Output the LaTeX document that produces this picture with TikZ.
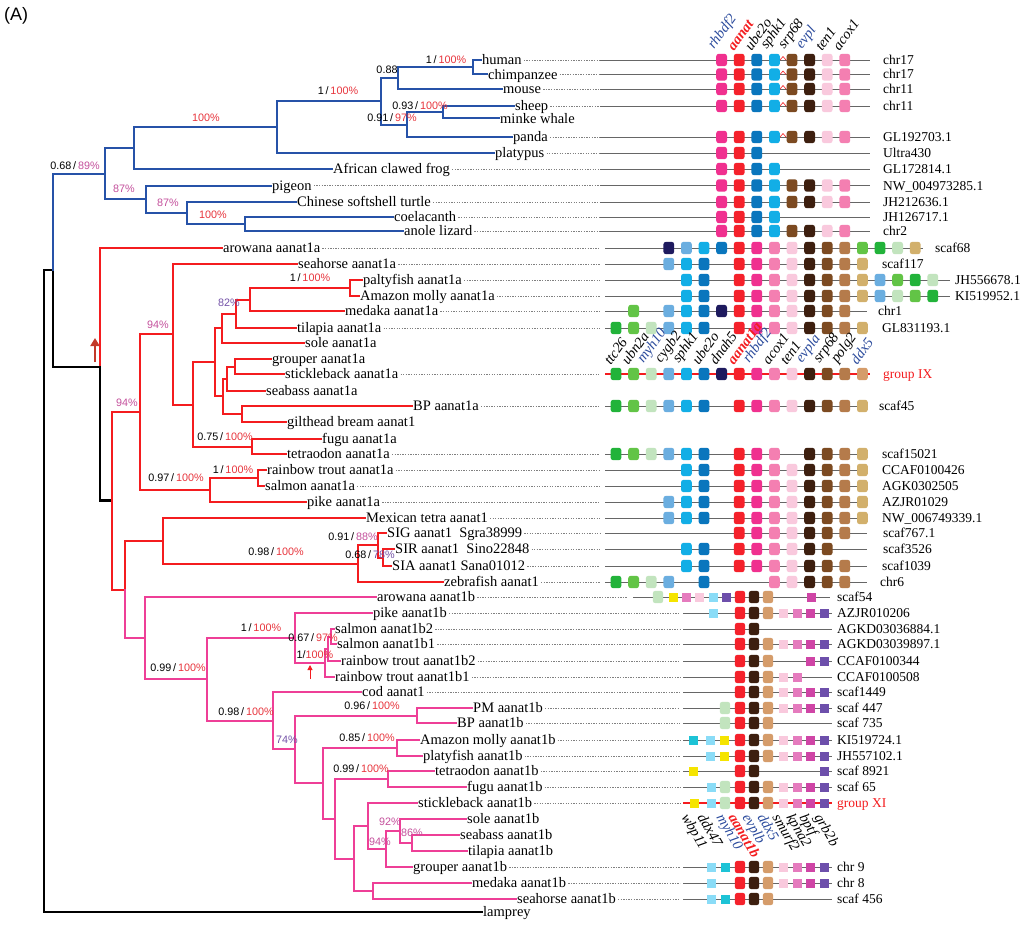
\documentclass[tikz,border=0pt]{standalone}
\usepackage{fontspec}
\setmainfont{Liberation Serif}
\setsansfont{Liberation Sans}
\usetikzlibrary{arrows.meta}
\definecolor{tb}{HTML}{2652A8}
\definecolor{tr}{HTML}{F41C1F}
\definecolor{tp}{HTML}{EE3F97}
\definecolor{pr}{HTML}{E8343C}
\definecolor{pp}{HTML}{C4509C}
\definecolor{pv}{HTML}{7452A8}
\definecolor{gb}{HTML}{2A4A9C}
\definecolor{arr}{HTML}{C23A2A}
\definecolor{cRhb}{HTML}{F0308F}
\definecolor{cRed}{HTML}{F5212B}
\definecolor{cUbe}{HTML}{0A76BD}
\definecolor{cSph}{HTML}{12AEE6}
\definecolor{cSrp}{HTML}{7C4A21}
\definecolor{cEvp}{HTML}{3D1F0F}
\definecolor{cTen}{HTML}{F9C9DD}
\definecolor{cAco}{HTML}{F47FB1}
\definecolor{cTtc}{HTML}{22B33A}
\definecolor{cUbn}{HTML}{62C446}
\definecolor{cMyh}{HTML}{C2E4BE}
\definecolor{cCyg}{HTML}{6BAEE0}
\definecolor{cDna}{HTML}{1E1A5E}
\definecolor{cPol}{HTML}{B57B4B}
\definecolor{cDdx}{HTML}{D2B06C}
\definecolor{cTan}{HTML}{D59C6A}
\definecolor{cYel}{HTML}{F5E400}
\definecolor{cLcy}{HTML}{8ADCF7}
\definecolor{cTeal}{HTML}{1DC3D6}
\definecolor{cKpn}{HTML}{E57BBE}
\definecolor{cBpt}{HTML}{CF45A6}
\definecolor{cGrb}{HTML}{6D4FAB}
\tikzset{
 br/.style={line width=2pt, line cap=rect},
 bb/.style={br, tb}, rb/.style={br, tr}, pb/.style={br, tp},
 kb/.style={br, black, line width=2.6pt},
 lab/.style={anchor=base west, inner sep=0pt, font=\fontsize{14.5}{14.5}\selectfont, yshift=-4.6pt},
 chl/.style={anchor=base west, inner sep=0pt, font=\fontsize{13.5}{13.5}\selectfont, yshift=-4.5pt},
 supp/.style={inner sep=0pt, font=\sffamily\fontsize{10.8}{10.8}\selectfont},
 ldr/.style={gray, line width=0.5pt, dash pattern=on 1.3pt off 1.3pt, shorten <=2pt},
 sl/.style={gray!80!black, line width=0.8pt},
 glab/.style={inner sep=0pt, font=\itshape\fontsize{14.5}{14.5}\selectfont},
 glabb/.style={inner sep=0pt, font=\bfseries\itshape\fontsize{14.5}{14.5}\selectfont, text=tr},
 up/.style={rotate=54, anchor=south west},
 dn/.style={rotate=-60, anchor=north west},
}
\newcommand\Leaf[6]{\node[lab] (#1) at (#4,#2) {#5};\draw[#6, shorten >=1.5pt] (#3,#2) -- (#1.west |- 0,#2);}
\newcommand\Ldr[3]{\draw[ldr] (#1.east |- 0,#2) -- (#3,#2);}
\newcommand\SynC[4]{\draw[sl] (#2,#1) -- (#3,#1);
 \foreach \ii/\cc in {#4} {\fill[\cc, rounded corners=2.6pt] ({616+17.6*\ii-5.4},{#1-6.2}) rectangle ({616+17.6*\ii+5.4},{#1+6.2});}}
\newcommand\RB[2]{\foreach \xx/\cc in {#2} {\fill[\cc, rounded corners=2.6pt] ({\xx-5.2},{#1-6.2}) rectangle ({\xx+5.2},{#1+6.2});}}
\newcommand\SQ[2]{\foreach \xx/\cc in {#2} {\fill[\cc] ({\xx-4.5},{#1-4.5}) rectangle ({\xx+4.5},{#1+4.5});}}
\newcommand\Sqg[1]{\draw[tr, line width=0.6pt] (780,#1) -- (783,#1-3.5) -- (786,#1);}
\begin{document}
\begin{tikzpicture}[x=1pt,y=-1pt]
\useasboundingbox (0,0) rectangle (1024,928);
\fill[white] (0,0) rectangle (1024,928);
\node[anchor=north west, inner sep=0pt, font=\sffamily\fontsize{18}{18}\selectfont] (A) at (4,7) {(A)};

% ---------- backbone ----------
\draw[kb] (44,270) -- (44,912);
\draw[kb] (44,270) -- (53,270);
\draw[kb] (53,270) -- (53,367) -- (100,367);
\draw[rb] (100,248) -- (100,367);
\draw[kb] (100,367) -- (100,500.7) -- (112,500.7);
\draw[-{Triangle[length=8pt,width=9pt]}, line width=2.6pt, arr] (95,362) -- (95,338);

% ---------- blue clade ----------
\draw[bb] (53,173.7) -- (53,270);
\draw[bb] (53,173.7) -- (105,173.7) (105,148.1) -- (105,199.25);
\draw[bb] (105,148.1) -- (134,148.1) (134,127.2) -- (134,169);
\draw[bb] (134,127.2) -- (277,127.2) (277,101.4) -- (277,153);
\draw[bb] (277,101.4) -- (381,101.4) (381,78.1) -- (381,124.6);
\draw[bb] (381,78.1) -- (398,78.1) (398,67.25) -- (398,89);
\draw[bb] (398,67.25) -- (473,67.25) (473,60) -- (473,74.5);
\draw[bb] (381,124.6) -- (407,124.6) (407,112.25) -- (407,137);
\draw[bb] (407,112.25) -- (443,112.25) (443,106) -- (443,118.5);
\draw[bb] (105,199.25) -- (146,199.25) (146,185.5) -- (146,213);
\draw[bb] (146,213) -- (187,213) (187,202) -- (187,224);
\draw[bb] (187,224) -- (245,224) (245,217) -- (245,231);

\Leaf{h}{60}{473}{482}{human}{bb}
\Leaf{ch}{74.5}{473}{488}{chimpanzee}{bb}
\Leaf{mo}{89}{398}{503}{mouse}{bb}
\Leaf{sh}{106}{443}{515}{sheep}{bb}
\Leaf{mw}{118.5}{443}{500}{minke whale}{bb}
\Leaf{pa}{137}{407}{513}{panda}{bb}
\Leaf{pl}{153}{277}{495}{platypus}{bb}
\Leaf{fr}{169}{134}{333}{African clawed frog}{bb}
\Leaf{pi}{185.5}{146}{272}{pigeon}{bb}
\Leaf{tu}{202}{187}{297}{Chinese softshell turtle}{bb}
\Leaf{co}{217}{245}{394}{coelacanth}{bb}
\Leaf{an}{231}{245}{404}{anole lizard}{bb}

\node[supp] (s1) at (75,166) {0.68\,/\,\textcolor{pp}{89\%}};
\node[supp] (s2) at (206,118) {\textcolor{pr}{100\%}};
\node[supp] (s3) at (338,91) {1\,/\,\textcolor{pr}{100\%}};
\node[supp] (s4) at (387,70) {0.88};
\node[supp] (s5) at (446,60) {1\,/\,\textcolor{pr}{100\%}};
\node[supp] (s6) at (392,118) {0.91\,/\,\textcolor{pr}{97\%}};
\node[supp] (s7) at (420,106) {0.93\,/\,\textcolor{pr}{100\%}};
\node[supp] (s8) at (124,189) {\textcolor{pp}{87\%}};
\node[supp] (s9) at (168,203) {\textcolor{pp}{87\%}};
\node[supp] (s10) at (213,215) {\textcolor{pr}{100\%}};

% ---------- aanat1a clade ----------
\draw[rb] (112,412) -- (112,589.5) (112,412) -- (140,412);
\draw[rb] (140,334.2) -- (140,490) (140,334.2) -- (173,334.2);
\draw[rb] (173,264) -- (173,404.5) (173,404.5) -- (193,404.5);
\draw[rb] (193,362.4) -- (193,446.5) (193,362.4) -- (215,362.4);
\draw[rb] (215,328.4) -- (215,396.4) (215,328.4) -- (222,328.4);
\draw[rb] (222,313.75) -- (222,343) (222,313.75) -- (236,313.75);
\draw[rb] (236,299.5) -- (236,328) (236,299.5) -- (250,299.5);
\draw[rb] (250,288) -- (250,311) (250,288) -- (350,288);
\draw[rb] (350,280) -- (350,296);
\draw[rb] (215,396.4) -- (223,396.4) (223,378.75) -- (223,414);
\draw[rb] (223,378.75) -- (227,378.75) (227,366.5) -- (227,391);
\draw[rb] (227,366.5) -- (235,366.5) (235,359) -- (235,374);
\draw[rb] (223,414) -- (242,414) (242,406) -- (242,422);
\draw[rb] (193,446.5) -- (252,446.5) (252,439) -- (252,454);
\draw[rb] (140,490) -- (210,490) (210,478) -- (210,502);
\draw[rb] (210,478) -- (258,478) (258,470) -- (258,486);
\draw[rb] (112,589.5) -- (125,589.5) (125,540.8) -- (125,589.5);
\draw[pb] (125,589.5) -- (125,638.2) (125,638.2) -- (145,638.2);
\draw[rb] (125,540.8) -- (163,540.8) (163,518) -- (163,563.6);
\draw[rb] (163,563.6) -- (358,563.6) (358,545.25) -- (358,582);
\draw[rb] (358,545.25) -- (378,545.25) (378,533) -- (378,557.5);
\draw[rb] (378,557.5) -- (383,557.5) (383,549) -- (383,566);

\Leaf{aro}{248}{100}{223}{arowana aanat1a}{rb}
\Leaf{sea}{264}{173}{298}{seahorse aanat1a}{rb}
\Leaf{pal}{280}{350}{363}{paltyfish aanat1a}{rb}
\Leaf{mol}{296}{350}{360}{Amazon molly aanat1a}{rb}
\Leaf{med}{311}{250}{345}{medaka aanat1a}{rb}
\Leaf{til}{328}{236}{297}{tilapia aanat1a}{rb}
\Leaf{sol}{343}{222}{305}{sole aanat1a}{rb}
\Leaf{gro}{359}{235}{272}{grouper aanat1a}{rb}
\Leaf{sti}{374}{235}{285}{stickleback aanat1a}{rb}
\Leaf{sba}{391}{227}{266}{seabass aanat1a}{rb}
\Leaf{bp}{406}{242}{413}{BP aanat1a}{rb}
\Leaf{gil}{422}{242}{287}{gilthead bream aanat1}{rb}
\Leaf{fug}{439}{252}{322}{fugu aanat1a}{rb}
\Leaf{tet}{454}{252}{287}{tetraodon aanat1a}{rb}
\Leaf{rt}{470}{258}{267}{rainbow trout aanat1a}{rb}
\Leaf{sal}{486}{258}{265}{salmon aanat1a}{rb}
\Leaf{pik}{502}{210}{307}{pike aanat1a}{rb}
\Leaf{mex}{518}{163}{366}{Mexican tetra aanat1}{rb}
\Leaf{sig}{533}{378}{387}{SIG aanat1\ \ Sgra38999}{rb}
\Leaf{sir}{549}{383}{395}{SIR aanat1\ \ Sino22848}{rb}
\Leaf{sia}{566}{383}{392}{SIA aanat1 Sana01012}{rb}
\Leaf{zeb}{582}{358}{444}{zebrafish aanat1}{rb}

\node[supp] (s11) at (310,278) {1\,/\,\textcolor{pr}{100\%}};
\node[supp] (s12) at (229,303) {\textcolor{pv}{82\%}};
\node[supp] (s13) at (158,325) {\textcolor{pp}{94\%}};
\node[supp] (s14) at (127,403) {\textcolor{pp}{94\%}};
\node[supp] (s15) at (225,437) {0.75\,/\,\textcolor{pr}{100\%}};
\node[supp] (s16) at (176,478) {0.97\,/\,\textcolor{pr}{100\%}};
\node[supp] (s17) at (233,470) {1\,/\,\textcolor{pr}{100\%}};
\node[supp] (s18) at (276,552) {0.98\,/\,\textcolor{pr}{100\%}};
\node[supp] (s19) at (353,537) {0.91\,/\,\textcolor{pp}{88\%}};
\node[supp] (s20) at (370,555) {0.68\,/\,\textcolor{pv}{78\%}};

% ---------- aanat1b clade ----------
\draw[pb] (145,597) -- (145,679.4) (145,679.4) -- (207,679.4);
\draw[pb] (207,638) -- (207,720.7) (207,638) -- (295,638);
\draw[pb] (295,613) -- (295,662.9) (295,662.9) -- (325,662.9);
\draw[pb] (325,648.75) -- (325,677) (325,648.75) -- (328,648.75);
\draw[pb] (328,636.5) -- (328,661) (328,636.5) -- (331,636.5);
\draw[pb] (331,629) -- (331,644);
\draw[pb] (207,720.7) -- (273,720.7) (273,692) -- (273,749.4);
\draw[pb] (273,749.4) -- (295,749.4) (295,715.5) -- (295,783.4);
\draw[pb] (295,715.5) -- (417,715.5) (417,708) -- (417,723);
\draw[pb] (295,783.4) -- (323,783.4) (323,748) -- (323,818.75);
\draw[pb] (323,748) -- (397,748) (397,740) -- (397,756);
\draw[pb] (323,818.75) -- (335,818.75) (335,779) -- (335,858.5);
\draw[pb] (335,779) -- (388,779) (388,771) -- (388,787);
\draw[pb] (335,858.5) -- (354,858.5) (354,826) -- (354,891);
\draw[pb] (354,826) -- (368,826) (368,803) -- (368,849);
\draw[pb] (368,849) -- (386,849) (386,831) -- (386,867);
\draw[pb] (386,831) -- (400,831) (400,819) -- (400,843);
\draw[pb] (400,843) -- (412,843) (412,835) -- (412,851);
\draw[pb] (354,891) -- (373,891) (373,883) -- (373,899);

\Leaf{baro}{597}{145}{377}{arowana aanat1b}{pb}
\Leaf{bpik}{613}{295}{373}{pike aanat1b}{pb}
\Leaf{bsb2}{629}{331}{335}{salmon aanat1b2}{pb}
\Leaf{bsb1}{644}{331}{337}{salmon aanat1b1}{pb}
\Leaf{brt2}{661}{328}{341}{rainbow trout aanat1b2}{pb}
\Leaf{brt1}{677}{325}{335}{rainbow trout aanat1b1}{pb}
\Leaf{cod}{692}{273}{362}{cod aanat1}{pb}
\Leaf{pm}{708}{417}{473}{PM aanat1b}{pb}
\Leaf{bbp}{723}{417}{457}{BP aanat1b}{pb}
\Leaf{bmol}{740}{397}{420}{Amazon molly aanat1b}{pb}
\Leaf{bpla}{756}{397}{423}{platyfish aanat1b}{pb}
\Leaf{btet}{771}{388}{435}{tetraodon aanat1b}{pb}
\Leaf{bfug}{787}{388}{467}{fugu aanat1b}{pb}
\Leaf{bsti}{803}{368}{418}{stickleback aanat1b}{pb}
\Leaf{bsol}{819}{400}{467}{sole aanat1b}{pb}
\Leaf{bsba}{835}{412}{460}{seabass aanat1b}{pb}
\Leaf{btil}{851}{412}{468}{tilapia aanat1b}{pb}
\Leaf{bgro}{867}{386}{413}{grouper aanat1b}{pb}
\Leaf{bmed}{883}{373}{472}{medaka aanat1b}{pb}
\Leaf{bsea}{899}{373}{517}{seahorse aanat1b}{pb}
\Leaf{lam}{912}{44}{483}{lamprey}{kb}

\draw[-{Triangle[length=5pt,width=5pt]}, line width=1pt, tr] (310,679) -- (310,665);
\node[supp] (s21) at (261,628) {1\,/\,\textcolor{pr}{100\%}};
\node[supp] (s22) at (313,638) {0.67\,/\,\textcolor{pr}{97\%}};
\node[supp] (s23) at (315,655) {1/\textcolor{pr}{100\%}};
\node[supp] (s24) at (178,668) {0.99\,/\,\textcolor{pr}{100\%}};
\node[supp] (s25) at (246,712) {0.98\,/\,\textcolor{pr}{100\%}};
\node[supp] (s26) at (287,740) {\textcolor{pv}{74\%}};
\node[supp] (s27) at (372,706) {0.96\,/\,\textcolor{pr}{100\%}};
\node[supp] (s28) at (367,738) {0.85\,/\,\textcolor{pr}{100\%}};
\node[supp] (s29) at (361,769) {0.99\,/\,\textcolor{pr}{100\%}};
\node[supp] (s30) at (380,842) {\textcolor{pp}{94\%}};
\node[supp] (s31) at (390,822) {\textcolor{pp}{92\%}};
\node[supp] (s32) at (412,833) {\textcolor{pp}{86\%}};

% ---------- leaders ----------
\foreach \nn/\yy in {h/60,ch/74.5,mo/89,sh/106,pa/137,pl/153,fr/169,pi/185.5,tu/202,co/217,an/231,
  aro/248,sea/264,pal/280,mol/296,med/311,til/328,sti/374,bp/406,tet/454,rt/470,sal/486,pik/502,mex/518,sig/533,sir/549,sia/566,zeb/582}
  {\Ldr{\nn}{\yy}{600}}
\Ldr{baro}{597}{628}
\foreach \nn/\yy in {bpik/613,bsb2/629,bsb1/644,brt2/661,brt1/677,cod/692,pm/708,bbp/723,bmol/740,bpla/756,btet/771,bfug/787,bsti/803,bgro/867,bmed/883,bsea/899}
  {\Ldr{\nn}{\yy}{680}}

% ---------- synteny: tetrapods ----------
\SynC{60}{600}{870}{6/cRhb,7/cRed,8/cUbe,9/cSph,10/cSrp,11/cEvp,12/cTen,13/cAco}\Sqg{60}
\SynC{74.5}{600}{870}{6/cRhb,7/cRed,8/cUbe,9/cSph,10/cSrp,11/cEvp,12/cTen,13/cAco}\Sqg{74.5}
\SynC{89}{600}{870}{6/cRhb,7/cRed,8/cUbe,9/cSph,10/cSrp,11/cEvp,12/cTen,13/cAco}\Sqg{89}
\SynC{106}{600}{870}{6/cRhb,7/cRed,8/cUbe,9/cSph,10/cSrp,11/cEvp,12/cTen,13/cAco}\Sqg{106}
\SynC{137}{600}{870}{6/cRhb,7/cRed,8/cUbe,9/cSph,10/cSrp,11/cEvp,12/cTen,13/cAco}\Sqg{137}
\SynC{153}{600}{870}{6/cRhb,7/cRed,8/cUbe}
\SynC{169}{600}{870}{6/cRhb,7/cRed,8/cUbe,9/cSph}
\SynC{185.5}{600}{870}{6/cRhb,7/cRed,8/cUbe,9/cSph,10/cSrp,11/cEvp,12/cTen,13/cAco}
\SynC{202}{600}{870}{6/cRhb,7/cRed,8/cUbe,9/cSph,10/cSrp,11/cEvp,12/cTen,13/cAco}
\SynC{217}{600}{870}{6/cRhb,7/cRed,8/cUbe,9/cSph}
\SynC{231}{600}{870}{6/cRhb,7/cRed,8/cUbe,9/cSph,10/cSrp,11/cEvp,12/cTen,13/cAco}
\node[chl] (k1) at (883,60) {chr17};
\node[chl] (k2) at (883,74.5) {chr17};
\node[chl] (k3) at (883,89) {chr11};
\node[chl] (k4) at (883,106) {chr11};
\node[chl] (k5) at (883,137) {GL192703.1};
\node[chl] (k6) at (883,153) {Ultra430};
\node[chl] (k7) at (883,169) {GL172814.1};
\node[chl] (k8) at (883,185.5) {NW\_004973285.1};
\node[chl] (k9) at (883,202) {JH212636.1};
\node[chl] (k10) at (883,217) {JH126717.1};
\node[chl] (k11) at (883,231) {chr2};
\node[glab, up, text=gb] (g1) at (716.6,52) {rhbdf2};
\node[glabb, up] (g2) at (734.2,52) {aanat};
\node[glab, up] (g3) at (751.8,52) {ube2o};
\node[glab, up] (g4) at (769.4,52) {sphk1};
\node[glab, up] (g5) at (787,52) {srp68};
\node[glab, up, text=gb] (g6) at (804.6,52) {evpl};
\node[glab, up] (g7) at (822.2,52) {ten1};
\node[glab, up] (g8) at (839.8,52) {acox1};

% ---------- synteny: aanat1a ----------
\SynC{248}{605}{923}{3/cDna,4/cCyg,5/cSph,6/cUbe,7/cRed,8/cRhb,9/cAco,10/cTen,11/cEvp,12/cSrp,13/cPol,14/cUbn,15/cTtc,16/cMyh,17/cDdx}
\SynC{264}{605}{868}{3/cCyg,4/cSph,5/cUbe,7/cRed,8/cRhb,9/cAco,10/cTen,11/cEvp,12/cSrp,13/cPol,14/cDdx}
\SynC{280}{605}{950}{4/cSph,5/cUbe,7/cRed,8/cRhb,9/cAco,10/cTen,11/cEvp,12/cSrp,13/cPol,14/cDdx,15/cCyg,16/cUbn,17/cTtc,18/cMyh}
\SynC{296}{605}{950}{4/cSph,5/cUbe,7/cRed,8/cRhb,9/cAco,10/cTen,11/cEvp,12/cSrp,13/cPol,14/cDdx,15/cCyg,16/cMyh,17/cUbn,18/cTtc}
\SynC{311}{605}{867}{1/cUbn,3/cCyg,4/cSph,5/cUbe,6/cDna,7/cRed,8/cRhb,9/cAco,10/cTen,11/cEvp,12/cSrp,13/cPol}
\SynC{328}{605}{867}{0/cTtc,1/cUbn,2/cMyh,3/cCyg,4/cSph,5/cUbe,7/cRed,8/cRhb,9/cAco,10/cTen,11/cEvp,12/cSrp,13/cPol,14/cDdx}
\draw[tr, line width=2pt] (605,374) -- (870,374);
\SynC{374}{605}{605}{0/cTtc,1/cUbn,2/cMyh,3/cCyg,4/cSph,5/cUbe,6/cDna,7/cRed,8/cRhb,9/cAco,10/cTen,11/cEvp,12/cSrp,13/cPol,14/cTan}
\SynC{406}{605}{867}{0/cTtc,1/cUbn,2/cMyh,3/cCyg,4/cSph,5/cUbe,7/cRed,8/cRhb,9/cAco,10/cTen,11/cEvp,12/cSrp,13/cPol,14/cDdx}
\SynC{454}{605}{867}{0/cTtc,1/cUbn,2/cMyh,3/cCyg,4/cSph,5/cUbe,7/cRed,8/cRhb,9/cAco,11/cEvp,12/cSrp,13/cPol,14/cDdx}
\SynC{470}{605}{867}{4/cSph,5/cUbe,7/cRed,8/cRhb,9/cAco,10/cTen,11/cEvp,12/cSrp,13/cPol,14/cDdx}
\SynC{486}{605}{867}{4/cSph,5/cUbe,7/cRed,8/cRhb,9/cAco,10/cTen,11/cEvp,12/cSrp,13/cPol,14/cDdx}
\SynC{502}{605}{867}{3/cCyg,4/cSph,5/cUbe,7/cRed,8/cRhb,9/cAco,10/cTen,11/cEvp,12/cSrp,13/cPol,14/cDdx}
\SynC{518}{605}{867}{3/cCyg,4/cSph,5/cUbe,7/cRed,8/cRhb,9/cAco,10/cTen,11/cEvp,12/cSrp,13/cPol,14/cDdx}
\SynC{533}{605}{867}{7/cRed,8/cRhb,9/cAco,10/cTen,11/cEvp,12/cSrp,13/cPol}
\SynC{549}{605}{867}{4/cSph,5/cUbe,7/cRed,8/cRhb,9/cAco,10/cTen,11/cEvp,12/cSrp}
\SynC{566}{605}{867}{4/cSph,5/cUbe,7/cRed,8/cRhb,9/cAco,10/cTen,11/cEvp,12/cSrp,13/cPol}
\SynC{582}{605}{867}{0/cTtc,1/cUbn,2/cMyh,3/cCyg,5/cUbe,9/cAco,10/cTen,11/cEvp,12/cSrp,13/cPol}
\node[chl] (k12) at (935,248) {scaf68};
\node[chl] (k13) at (882,264) {scaf117};
\node[chl] (k14) at (955,280) {JH556678.1};
\node[chl] (k15) at (955,296) {KI519952.1};
\node[chl] (k16) at (878,311) {chr1};
\node[chl] (k17) at (882,328) {GL831193.1};
\node[chl, text=tr] (k18) at (883,374) {group IX};
\node[chl] (k19) at (879,406) {scaf45};
\node[chl] (k20) at (882,454) {scaf15021};
\node[chl] (k21) at (882,470) {CCAF0100426};
\node[chl] (k22) at (882,486) {AGK0302505};
\node[chl] (k23) at (882,502) {AZJR01029};
\node[chl] (k24) at (882,518) {NW\_006749339.1};
\node[chl] (k25) at (883,533) {scaf767.1};
\node[chl] (k26) at (883,549) {scaf3526};
\node[chl] (k27) at (882,566) {scaf1039};
\node[chl] (k28) at (880,582) {chr6};
\foreach \ii/\tt in {0/ttc26,1/ubn2a,3/cygb2,4/sphk1,5/ube2o,6/dnah5,9/acox1,10/ten1,12/srp68,13/polg2}
  {\node[glab, up] (h\ii) at ({616+17.6*\ii-5},366) {\tt};}
\node[glab, up, text=gb] (h2) at ({616+17.6*2-5},366) {myh10};
\node[glabb, up] (h7) at ({616+17.6*7-5},366) {aanat1a};
\node[glab, up, text=gb] (h8) at ({616+17.6*8-5},366) {rhbdf2};
\node[glab, up, text=gb] (h11) at ({616+17.6*11-5},366) {evpla};
\node[glab, up, text=gb] (h14) at ({616+17.6*14-5},366) {ddx5};

% ---------- synteny: aanat1b ----------
\draw[sl] (633,597) -- (830,597);
\RB{597}{658/cMyh,740/cRed,754/cEvp,768/cTan}
\SQ{597}{673/cYel,686/cKpn,699/cTen,713/cLcy,726/cGrb,811/cBpt}
\draw[sl] (683,613) -- (832,613);
\RB{613}{740/cRed,754/cEvp,768/cTan}
\SQ{613}{713/cLcy,783/cTen,797/cKpn,810/cBpt,824/cGrb}
\draw[sl] (683,629) -- (832,629);
\RB{629}{740/cRed,754/cEvp}
\draw[sl] (683,644) -- (832,644);
\RB{644}{740/cRed,754/cEvp,768/cTan}
\SQ{644}{783/cTen,797/cKpn,810/cBpt,824/cGrb}
\draw[sl] (683,661) -- (832,661);
\RB{661}{740/cRed,754/cEvp,768/cTan}
\SQ{661}{810/cBpt,824/cGrb}
\draw[sl] (683,677) -- (832,677);
\RB{677}{740/cRed,754/cEvp,768/cTan}
\SQ{677}{783/cTen,797/cKpn}
\draw[sl] (683,692) -- (832,692);
\RB{692}{740/cRed,754/cEvp,768/cTan}
\SQ{692}{783/cTen,797/cKpn,810/cBpt,824/cGrb}
\draw[sl] (683,708) -- (832,708);
\RB{708}{725/cMyh,740/cRed,754/cEvp,768/cTan}
\SQ{708}{783/cTen,797/cKpn,810/cBpt,824/cGrb}
\draw[sl] (683,723) -- (832,723);
\RB{723}{725/cMyh,740/cRed,754/cEvp,768/cTan}
\draw[sl] (683,740) -- (832,740);
\RB{740}{740/cRed,754/cEvp,768/cTan}
\SQ{740}{693/cTeal,710/cLcy,724/cYel,783/cTen,797/cKpn,810/cBpt,824/cGrb}
\draw[sl] (683,756) -- (832,756);
\RB{756}{740/cRed,754/cEvp,768/cTan}
\SQ{756}{710/cLcy,724/cYel,783/cTen,797/cKpn,810/cBpt,824/cGrb}
\draw[sl] (683,771) -- (832,771);
\RB{771}{740/cRed,754/cEvp}
\SQ{771}{693/cYel,824/cGrb}
\draw[sl] (683,787) -- (832,787);
\RB{787}{725/cMyh,740/cRed,754/cEvp,768/cTan}
\SQ{787}{711/cLcy,783/cTen,797/cKpn,810/cBpt,824/cGrb}
\draw[tr, line width=2pt] (683,803) -- (832,803);
\RB{803}{725/cMyh,740/cRed,754/cEvp,768/cTan}
\SQ{803}{694/cYel,711/cLcy,783/cTen,797/cKpn,810/cBpt,824/cGrb}
\draw[sl] (683,867) -- (832,867);
\RB{867}{740/cRed,754/cEvp,768/cTan}
\SQ{867}{711/cLcy,725/cTeal,783/cTen,797/cKpn,810/cBpt,824/cGrb}
\draw[sl] (683,883) -- (832,883);
\RB{883}{740/cRed,754/cEvp,768/cTan}
\SQ{883}{711/cLcy,783/cTen,797/cKpn,810/cBpt,824/cGrb}
\draw[sl] (683,899) -- (832,899);
\RB{899}{740/cRed,754/cEvp,768/cTan}
\SQ{899}{711/cLcy,725/cTeal}
\node[chl] (m1) at (837,597) {scaf54};
\node[chl] (m2) at (837,613) {AZJR010206};
\node[chl] (m3) at (837,629) {AGKD03036884.1};
\node[chl] (m4) at (837,644) {AGKD03039897.1};
\node[chl] (m5) at (837,661) {CCAF0100344};
\node[chl] (m6) at (837,677) {CCAF0100508};
\node[chl] (m7) at (837,692) {scaf1449};
\node[chl] (m8) at (837,708) {scaf 447};
\node[chl] (m9) at (837,723) {scaf 735};
\node[chl] (m10) at (837,740) {KI519724.1};
\node[chl] (m11) at (837,756) {JH557102.1};
\node[chl] (m12) at (837,771) {scaf 8921};
\node[chl] (m13) at (837,787) {scaf 65};
\node[chl, text=tr] (m14) at (837,803) {group XI};
\node[chl] (m15) at (837,867) {chr 9};
\node[chl] (m16) at (837,883) {chr 8};
\node[chl] (m17) at (837,899) {scaf 456};
\foreach \xx/\tt/\nn in {690/wbp11/1,706/ddx47/2,781/smurf2/7,795/kpna2/8,808/bptf/9,823/grb2b/10}
  {\node[glab, dn] (q\nn) at (\xx,812) {\tt};}
\node[glab, dn, text=gb] (q3) at (725,812) {myh10};
\node[glabb, dn] (q4) at (737,812) {aanat1b};
\node[glab, dn, text=gb] (q5) at (751,812) {evplb};
\node[glab, dn, text=gb] (q6) at (766,812) {ddx5};
\end{tikzpicture}
\end{document}
